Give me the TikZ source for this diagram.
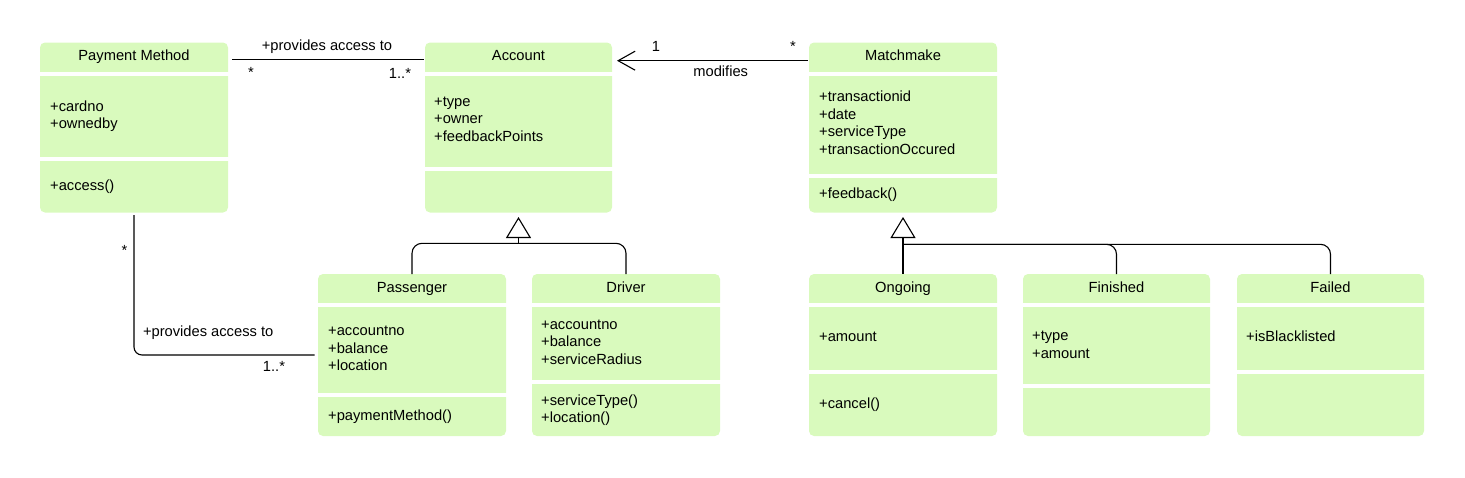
\documentclass[tikz,border=0pt]{standalone}
\usepackage{fontspec}
\setmainfont{Liberation Sans}
\usetikzlibrary{arrows.meta,calc}
\definecolor{clsgreen}{RGB}{217,250,189}
\tikzset{
  cls/.style={draw=none, fill=clsgreen, rounded corners=5pt, inner sep=0pt, outer sep=0pt, anchor=north west},
  txt/.style={font=\fontsize{14.7}{17.6}\selectfont, inner sep=0pt, text=black},
  title/.style={txt, anchor=base},
  attr/.style={txt, anchor=base west},
  lbl/.style={txt, anchor=base},
  conn/.style={line width=1.1pt, draw=black},
  gen/.style={conn, -{Triangle[open, length=21pt, width=25pt, line width=1.1pt]}},
  dep/.style={conn, -{Straight Barb[length=17pt, width=19pt, line width=1.1pt]}},
}
\newcommand\classbox[7]{%
  \node[cls, minimum width={(#4-#2)*1pt}, minimum height={(#5-#3)*1pt}] (#1) at (#2,#3) {};
  \fill[white] (#2-1,#6) rectangle (#4+1,#6+4);
  \fill[white] (#2-1,#7) rectangle (#4+1,#7+4);
}
\newcommand\attrlines[4]{%
  \foreach \t [count=\i from 0] in {#4} {\node[attr] (#1-\i) at (#2,{#3+\i*17.6}) {\t};}%
}
\begin{document}
\begin{tikzpicture}[x=1pt,y=-1pt]
\useasboundingbox (0,0) rectangle (1465,477);

% class boxes
\classbox{pm}{40}{42.5}{228}{212.5}{71.7}{156.7}
\classbox{acc}{425}{42.5}{612}{212.5}{71.7}{166.7}
\classbox{mm}{809}{42.5}{997}{212.5}{71.7}{174}
\classbox{pass}{318}{274}{506}{436}{302.7}{392.7}
\classbox{drv}{532}{274}{720}{436}{302.7}{379.7}
\classbox{ong}{809}{274}{997}{436}{302.7}{370}
\classbox{fin}{1023}{274}{1210}{436}{302.7}{384}
\classbox{fail}{1237}{274}{1424}{436}{302.7}{370}

% titles
\node[title] (pm-t) at (134,60) {Payment Method};
\node[title] (acc-t) at (518.5,60) {Account};
\node[title] (mm-t) at (903,60) {Matchmake};
\node[title] (pass-t) at (412,292) {Passenger};
\node[title] (drv-t) at (626,292) {Driver};
\node[title] (ong-t) at (903,292.3) {Ongoing};
\node[title] (fin-t) at (1116.5,292.3) {Finished};
\node[title] (fail-t) at (1330.5,292.3) {Failed};

% attributes and operations
\attrlines{pma}{50}{111}{+cardno,+ownedby}
\attrlines{pmo}{50}{190}{+access()}
\attrlines{acca}{434}{106.3}{+type,+owner,+feedbackPoints}
\attrlines{mma}{819}{101.7}{+transactionid,+date,+serviceType,+transactionOccured}
\attrlines{mmo}{819}{198.3}{+feedback()}
\attrlines{passa}{328}{335.7}{+accountno,+balance,+location}
\attrlines{passo}{328}{420}{+paymentMethod()}
\attrlines{drva}{541}{329}{+accountno,+balance,+serviceRadius}
\attrlines{drvo}{541}{405}{+serviceType(),+location()}
\attrlines{onga}{819}{341.7}{+amount}
\attrlines{ongo}{819}{408.3}{+cancel()}
\attrlines{fina}{1032}{340.7}{+type,+amount}
\attrlines{faila}{1246}{341.7}{+isBlacklisted}

% association Payment Method -- Account
\draw[conn] ($(pm.north east)+(4,16.8)$) -- ($(acc.north west)+(-1,16.8)$);
\node[lbl] (l1) at (327,50) {+provides access to};
\node[lbl] (l1a) at (251,77) {*};
\node[lbl] (l1b) at (400,78) {1..*};

% Matchmake modifies Account
\draw[dep] ($(mm.north west)+(-1,18.2)$) -- ($(acc.north east)+(5,18.2)$);
\node[lbl] (l2a) at (656,51) {1};
\node[lbl] (l2b) at (793,51.4) {*};
\node[lbl] (l2) at (720.7,76) {modifies};

% association Payment Method -- Passenger
\draw[conn, rounded corners=8pt] ($(pm.south)+(0,2.5)$) |- ($(pass.north west)+(-3.5,81)$);
\node[lbl] (l3a) at (124.5,255) {*};
\node[attr] (l3) at (142.8,336) {+provides access to};
\node[lbl] (l3b) at (274,371) {1..*};

% generalization to Account
\coordinate (accj) at (518.5,243.3);
\draw[conn, rounded corners=10pt] (pass.north) |- (accj) -| (drv.north);
\draw[gen] (accj) -- ($(acc.south)+(0,4.5)$);

% generalization to Matchmake
\coordinate (mmj) at (903,244.3);
\draw[gen] (ong.north) -- ($(mm.south)+(0,4.5)$);
\draw[conn, rounded corners=10pt] (mmj) -| (fin.north);
\draw[conn, rounded corners=10pt] (mmj) -| (fail.north);
\end{tikzpicture}
\end{document}
